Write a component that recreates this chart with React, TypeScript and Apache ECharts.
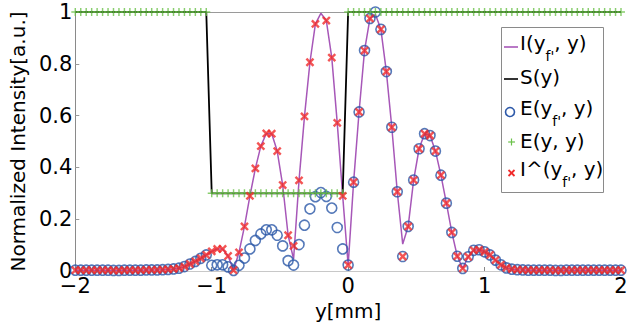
import React, { useEffect, useRef } from "react";
import * as echarts from "echarts";

// sample positions y [mm]
const yPos = [
  -2, -1.96, -1.92, -1.88, -1.84, -1.8, -1.76, -1.72, -1.68, -1.64,
  -1.6, -1.56, -1.52, -1.48, -1.44, -1.4, -1.36, -1.32, -1.28, -1.24,
  -1.2, -1.16, -1.12, -1.08, -1.04, -1, -0.96, -0.92, -0.88, -0.84,
  -0.8, -0.76, -0.72, -0.68, -0.64, -0.6, -0.56, -0.52, -0.48, -0.44,
  -0.4, -0.36, -0.32, -0.28, -0.24, -0.2, -0.16, -0.12, -0.08, -0.04,
  0, 0.04, 0.08, 0.12, 0.16, 0.2, 0.24, 0.28, 0.32, 0.36,
  0.4, 0.44, 0.48, 0.52, 0.56, 0.6, 0.64, 0.68, 0.72, 0.76,
  0.8, 0.84, 0.88, 0.92, 0.96, 1, 1.04, 1.08, 1.12, 1.16,
  1.2, 1.24, 1.28, 1.32, 1.36, 1.4, 1.44, 1.48, 1.52, 1.56,
  1.6, 1.64, 1.68, 1.72, 1.76, 1.8, 1.84, 1.88, 1.92, 1.96,
  2,
];

// I(y_f', y) purple line
const seriesI = [
  0.003, 0.003, 0.003, 0.003, 0.003, 0.003, 0.003, 0.002, 0.002, 0.003,
  0.003, 0.003, 0.003, 0.004, 0.004, 0.004, 0.005, 0.006, 0.008, 0.011,
  0.017, 0.027, 0.037, 0.049, 0.062, 0.076, 0.085, 0.085, 0.058, 0.003,
  0.072, 0.172, 0.29, 0.396, 0.482, 0.531, 0.53, 0.463, 0.332, 0.138,
  0.046, 0.35, 0.597, 0.806, 0.954, 0.995, 0.967, 0.824, 0.572, 0.29,
  0.023, 0.343, 0.614, 0.851, 0.975, 0.99, 0.933, 0.77, 0.555, 0.306,
  0.104, 0.172, 0.351, 0.472, 0.53, 0.523, 0.463, 0.37, 0.262, 0.149,
  0.057, 0.01, 0.055, 0.08, 0.082, 0.074, 0.062, 0.042, 0.024, 0.012,
  0.007, 0.005, 0.004, 0.003, 0.003, 0.003, 0.003, 0.003, 0.002, 0.002,
  0.003, 0.003, 0.003, 0.003, 0.003, 0.003, 0.003, 0.003, 0.003, 0.003,
  0.003,
];

// S(y) black line
const seriesS = [
  1, 1, 1, 1, 1, 1, 1, 1, 1, 1,
  1, 1, 1, 1, 1, 1, 1, 1, 1, 1,
  1, 1, 1, 1, 1, 0.3, 0.3, 0.3, 0.3, 0.3,
  0.3, 0.3, 0.3, 0.3, 0.3, 0.3, 0.3, 0.3, 0.3, 0.3,
  0.3, 0.3, 0.3, 0.3, 0.3, 0.3, 0.3, 0.3, 0.3, 0.3,
  1, 1, 1, 1, 1, 1, 1, 1, 1, 1,
  1, 1, 1, 1, 1, 1, 1, 1, 1, 1,
  1, 1, 1, 1, 1, 1, 1, 1, 1, 1,
  1, 1, 1, 1, 1, 1, 1, 1, 1, 1,
  1, 1, 1, 1, 1, 1, 1, 1, 1, 1,
  1,
];

// E(y_f', y) blue circles
const seriesE = [
  0.003, 0.003, 0.003, 0.003, 0.003, 0.003, 0.003, 0.002, 0.002, 0.003,
  0.003, 0.003, 0.003, 0.004, 0.004, 0.004, 0.005, 0.006, 0.008, 0.011,
  0.017, 0.027, 0.037, 0.049, 0.062, 0.022, 0.024, 0.024, 0.016, 0.002,
  0.022, 0.05, 0.085, 0.118, 0.143, 0.159, 0.159, 0.138, 0.097, 0.04,
  0.023, 0.102, 0.177, 0.24, 0.287, 0.303, 0.288, 0.243, 0.168, 0.085,
  0.023, 0.343, 0.614, 0.851, 0.975, 1.0, 0.933, 0.77, 0.555, 0.306,
  0.056, 0.172, 0.351, 0.472, 0.53, 0.523, 0.463, 0.37, 0.262, 0.149,
  0.057, 0.01, 0.055, 0.08, 0.082, 0.074, 0.062, 0.042, 0.024, 0.012,
  0.007, 0.005, 0.004, 0.003, 0.003, 0.003, 0.003, 0.003, 0.002, 0.002,
  0.003, 0.003, 0.003, 0.003, 0.003, 0.003, 0.003, 0.003, 0.003, 0.003,
  0.003,
];

// E(y, y) green plus markers
const seriesEyy = [
  1, 1, 1, 1, 1, 1, 1, 1, 1, 1,
  1, 1, 1, 1, 1, 1, 1, 1, 1, 1,
  1, 1, 1, 1, 1, 0.3, 0.3, 0.3, 0.3, 0.3,
  0.3, 0.3, 0.3, 0.3, 0.3, 0.3, 0.3, 0.3, 0.3, 0.3,
  0.3, 0.3, 0.3, 0.3, 0.3, 0.3, 0.3, 0.3, 0.3, 0.3,
  1, 1, 1, 1, 1, 1, 1, 1, 1, 1,
  1, 1, 1, 1, 1, 1, 1, 1, 1, 1,
  1, 1, 1, 1, 1, 1, 1, 1, 1, 1,
  1, 1, 1, 1, 1, 1, 1, 1, 1, 1,
  1, 1, 1, 1, 1, 1, 1, 1, 1, 1,
  1,
];

// I^(y_f', y) red crosses
const seriesIhat = [
  0.003, 0.003, 0.003, 0.003, 0.003, 0.003, 0.003, 0.002, 0.002, 0.003,
  0.003, 0.003, 0.003, 0.004, 0.004, 0.004, 0.005, 0.006, 0.008, 0.011,
  0.017, 0.027, 0.037, 0.049, 0.062, 0.076, 0.085, 0.085, 0.058, 0.003,
  0.072, 0.172, 0.29, 0.396, 0.482, 0.531, 0.53, 0.463, 0.332, 0.138,
  0.097, 0.35, 0.597, 0.806, 0.954, null, 0.967, 0.824, 0.572, 0.29,
  0.023, 0.343, 0.614, 0.851, 0.975, null, 0.933, 0.77, 0.555, 0.306,
  0.056, 0.172, 0.351, 0.472, 0.53, 0.523, 0.463, 0.37, 0.262, 0.149,
  0.057, 0.01, 0.055, 0.08, 0.082, 0.074, 0.062, 0.042, 0.024, 0.012,
  0.007, 0.005, 0.004, 0.003, 0.003, 0.003, 0.003, 0.003, 0.002, 0.002,
  0.003, 0.003, 0.003, 0.003, 0.003, 0.003, 0.003, 0.003, 0.003, 0.003,
  0.003,
];

const FONT = '"DejaVu Sans", sans-serif';
const PURPLE = "#a757b8";
const BLUE = "#2b57a8";
const GREEN = "#6cc24a";
const RED = "#f02a2a";

const PLUS_PATH = "path://M4.1,0H5.9V4.1H10V5.9H5.9V10H4.1V5.9H0V4.1H4.1Z";
const CROSS_PATH = "path://M3.8,0H6.2V3.8H10V6.2H6.2V10H3.8V6.2H0V3.8H3.8Z";

const pairs = (vals: (number | null)[]) => yPos.map((x, i) => [x, vals[i]]);
const pointPairs = (vals: (number | null)[]) =>
  yPos.map((x, i) => [x, vals[i]]).filter((p) => p[1] !== null);

function buildLegend() {
  const ctx = document.createElement("canvas").getContext("2d") as CanvasRenderingContext2D;
  const measure = (t: string, size: number) => {
    ctx.font = `${size}px "DejaVu Sans"`;
    return ctx.measureText(t).width;
  };
  const items = [
    { main: "I(y", sub: "f'", tail: ", y)", ty: 43, my: 47, marker: "line", color: PURPLE },
    { main: "S(y)", ty: 77, my: 79, marker: "line", color: "#000" },
    { main: "E(y", sub: "f'", tail: ", y)", ty: 108, my: 112, marker: "circle", color: BLUE },
    { main: "E(y, y)", ty: 141, my: 142, marker: "plus", color: GREEN },
    { main: "I^(y", sub: "f'", tail: ", y)", ty: 169, my: 173, marker: "cross", color: RED },
  ];
  const els: any[] = [
    {
      type: "rect",
      shape: { x: 501.5, y: 27.5, width: 102, height: 165 },
      style: { fill: "#fff", stroke: "#8a8a8a", lineWidth: 1 },
      z: 100,
    },
  ];
  const tx = (text: string, x: number, y: number, size: number) => ({
    type: "text",
    x,
    y,
    style: { text, fontSize: size, fontFamily: FONT, fill: "#000", align: "left", verticalAlign: "middle" },
    z: 101,
  });
  items.forEach((it) => {
    let x = 520;
    els.push(tx(it.main, x, it.ty, 20));
    x += measure(it.main, 20);
    if (it.sub) {
      els.push(tx(it.sub, x, it.ty + 13, 14));
      x += measure(it.sub, 14);
      els.push(tx(it.tail as string, x, it.ty, 20));
    }
    if (it.marker === "line") {
      els.push({
        type: "line",
        shape: { x1: 504, y1: it.my, x2: 518, y2: it.my },
        style: { stroke: it.color, lineWidth: 1.6 },
        z: 101,
      });
    } else if (it.marker === "circle") {
      els.push({
        type: "circle",
        shape: { cx: 510, cy: it.my, r: 4.5 },
        style: { fill: "none", stroke: it.color, lineWidth: 1.6 },
        z: 101,
      });
    } else if (it.marker === "plus") {
      els.push({ type: "line", shape: { x1: 508, y1: it.my, x2: 515, y2: it.my }, style: { stroke: it.color, lineWidth: 1.2 }, z: 101 });
      els.push({ type: "line", shape: { x1: 511.5, y1: it.my - 3.5, x2: 511.5, y2: it.my + 3.5 }, style: { stroke: it.color, lineWidth: 1.2 }, z: 101 });
    } else {
      els.push({ type: "line", shape: { x1: 508.5, y1: it.my - 3, x2: 514.5, y2: it.my + 3 }, style: { stroke: it.color, lineWidth: 1.8 }, z: 101 });
      els.push({ type: "line", shape: { x1: 508.5, y1: it.my + 3, x2: 514.5, y2: it.my - 3 }, style: { stroke: it.color, lineWidth: 1.8 }, z: 101 });
    }
  });
  return els;
}

export default function App() {
  const ref = useRef<HTMLDivElement>(null);
  useEffect(() => {
    if (!ref.current) return;
    const chart = echarts.init(ref.current, undefined, { renderer: "svg" });
    const option: any = {
      animation: false,
      backgroundColor: "#fff",
      grid: { left: 71, right: 14, top: 12, bottom: 54, containLabel: false },
      xAxis: [
        {
          type: "value",
          min: -2,
          max: 2,
          interval: 1,
          position: "bottom",
          axisLine: { show: true, onZero: false, lineStyle: { color: "#c8c8c8", width: 1 } },
          axisTick: { show: true, inside: true, length: 4, lineStyle: { color: "#888" } },
          axisLabel: {
            fontSize: 21,
            fontFamily: FONT,
            color: "#000",
            margin: 4,
            formatter: (v: number) => String(v).replace("-", "\u2212"),
          },
          splitLine: { show: false },
          name: "y[mm]",
          nameLocation: "middle",
          nameGap: 30,
          nameTextStyle: { fontSize: 20, fontFamily: FONT, color: "#000" },
        },
        {
          type: "value",
          min: -2,
          max: 2,
          position: "top",
          axisLine: { show: true, onZero: false, lineStyle: { color: "#9a9a9a", width: 1 } },
          axisTick: { show: false },
          axisLabel: { show: false },
          splitLine: { show: false },
        },
      ],
      yAxis: {
        type: "value",
        min: 0,
        max: 1,
        interval: 0.2,
        axisLine: { show: true, onZero: false, lineStyle: { color: "#8a8a8a", width: 1 } },
        axisTick: { show: true, inside: true, length: 4, lineStyle: { color: "#999" } },
        axisLabel: {
          fontSize: 21,
          fontFamily: FONT,
          color: "#000",
          margin: 3,
          formatter: (v: number) => String(Math.round(v * 10) / 10),
        },
        splitLine: { show: false },
        name: "Normalized Intensity[a.u.]",
        nameLocation: "middle",
        nameGap: 35,
        nameRotate: 90,
        nameTextStyle: { fontSize: 20, fontFamily: FONT, color: "#000" },
      },
      series: [
        {
          name: "I(y_f', y)",
          type: "line",
          data: pairs(seriesI),
          symbol: "none",
          lineStyle: { color: PURPLE, width: 1.5 },
          z: 2,
        },
        {
          name: "S(y)",
          type: "line",
          data: pairs(seriesS),
          symbol: "none",
          lineStyle: { color: "#000", width: 1.8 },
          z: 3,
        },
        {
          name: "E(y_f', y)",
          type: "scatter",
          data: pointPairs(seriesE),
          symbol: "circle",
          symbolSize: 10,
          itemStyle: { color: "rgba(0,0,0,0)", borderColor: BLUE, borderWidth: 1.6 },
          z: 4,
        },
        {
          name: "E(y, y)",
          type: "scatter",
          data: pointPairs(seriesEyy),
          symbol: PLUS_PATH,
          symbolSize: 8,
          itemStyle: { color: GREEN },
          z: 5,
        },
        {
          name: "I^(y_f', y)",
          type: "scatter",
          data: pointPairs(seriesIhat),
          symbol: CROSS_PATH,
          symbolSize: 10,
          symbolRotate: 45,
          itemStyle: { color: RED },
          z: 6,
        },
      ],
      graphic: buildLegend(),
    };
    chart.setOption(option);
    return () => chart.dispose();
  }, []);
  return (
    <div
      ref={ref}
      style={{ position: "absolute", left: 0, top: 0, width: 635, height: 326 }}
    />
  );
}
